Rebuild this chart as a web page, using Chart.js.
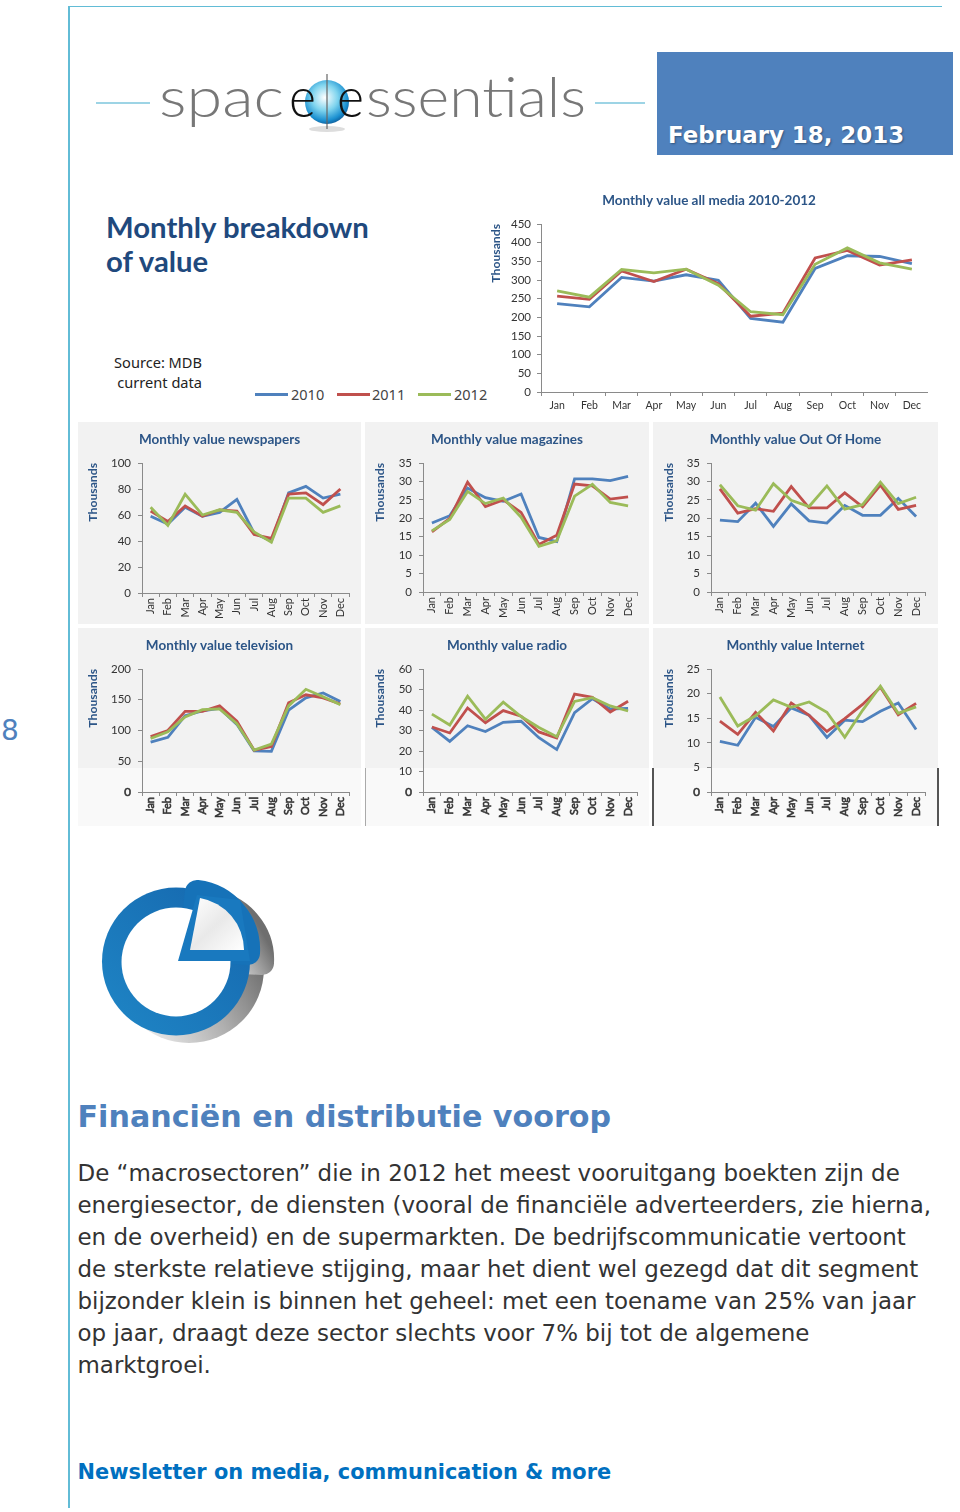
<!DOCTYPE html>
<html>
<head>
<meta charset="utf-8">
<title>Monthly breakdown of value</title>
<script src="https://cdn.jsdelivr.net/npm/chart.js@4"></script>
<style>
    html, body { margin: 0; padding: 0; background: #fff; }
    #page { position: relative; width: 960px; height: 1512px; overflow: hidden; font-family: "DejaVu Sans", sans-serif; }
    #page > * { position: absolute; }
    canvas { position: absolute; }
    .panel { background: #f2f2f2; }
    .fade { background: #f9f9f9; }
    .edge { width: 2px; top: 768px; height: 58px; background: #555; }
    #date { left: 657px; top: 52px; width: 296px; height: 103px; background: #4f81bd; }
    #date span { position: absolute; left: 11px; top: 70px; color: #fff; font-weight: bold; font-size: 22.9px; white-space: nowrap; text-shadow: 1px 1px 2px rgba(0,0,0,.35); }
    #heading { left: 106px; top: 210px; color: #1f497d; font: bold 29.3px/33.5px Lato, sans-serif; white-space: nowrap; }
    #source { left: 100px; top: 353px; width: 102px; text-align: right; color: #222; font: 14.6px/19.5px "Noto Sans", sans-serif; white-space: nowrap; }
    #legend span { position: absolute; top: 385px; color: #444; font: 14.5px/18px "Noto Sans", sans-serif; }
    #legend i { position: absolute; top: 393px; width: 33px; height: 3px; }
    #pagenr { left: 1px; top: 714px; font-size: 28px; color: #4f81bd; }
    #title2 { left: 77.5px; top: 1099px; color: #4f81bd; font-weight: bold; font-size: 30.15px; white-space: nowrap; }
    #body { left: 77.5px; top: 1157px; color: #333; font-size: 22.95px; line-height: 32px; white-space: nowrap; }
    #footer { left: 77.5px; top: 1460px; color: #0070c0; font-weight: bold; font-size: 20.9px; white-space: nowrap; }
</style>
</head>
<body>
<div id="page">
    <div style="left:69px;top:6px;width:873px;height:1px;background:#62bcd6"></div>
    <div style="left:68px;top:6px;width:2px;height:1502px;background:#62bcd6"></div>

    <svg style="left:0;top:0" width="960" height="160">
        <defs>
            <radialGradient id="globe" cx="45%" cy="40%" r="65%">
                <stop offset="0" stop-color="#ffffff"/>
                <stop offset=".45" stop-color="#7fd4ee"/>
                <stop offset=".8" stop-color="#1a8fd0"/>
                <stop offset="1" stop-color="#0b4f8a"/>
            </radialGradient>
        </defs>
        <line x1="96" y1="103" x2="150" y2="103" stroke="#7cc6dc" stroke-width="1.5"/>
        <line x1="595" y1="103" x2="645" y2="103" stroke="#7cc6dc" stroke-width="1.5"/>
        <ellipse cx="327" cy="129" rx="18" ry="3" fill="#ddd"/>
        <circle cx="327" cy="102" r="22" fill="url(#globe)"/>
        <g font-family="Lato, sans-serif" font-weight="300" font-size="56" fill="#777">
            <text x="159" y="117" textLength="125" lengthAdjust="spacingAndGlyphs">spac</text>
            <text x="289" y="117" fill="#111" textLength="27" lengthAdjust="spacingAndGlyphs">e</text>
            <text x="337" y="117" fill="#111" textLength="27" lengthAdjust="spacingAndGlyphs">e</text>
            <text x="366" y="117" textLength="220" lengthAdjust="spacingAndGlyphs">ssentials</text>
        </g>
        <line x1="327" y1="74" x2="327" y2="129" stroke="#666" stroke-width="1.2"/>
    </svg>

    <div id="date"><span>February 18, 2013</span></div>
    <div id="heading">Monthly breakdown<br>of value</div>
    <div id="source">Source: MDB<br>current data</div>
    <div id="legend" style="left:0;top:0"></div>

    <div class="panel" style="left:78px;top:422px;width:283px;height:202px"></div>
    <div class="panel" style="left:365px;top:422px;width:284px;height:202px"></div>
    <div class="panel" style="left:653px;top:422px;width:285px;height:202px"></div>
    <div class="panel" style="left:78px;top:628px;width:283px;height:140px"></div>
    <div class="panel" style="left:365px;top:628px;width:284px;height:140px"></div>
    <div class="panel" style="left:653px;top:628px;width:285px;height:140px"></div>
    <div class="fade" style="left:78px;top:768px;width:283px;height:58px"></div>
    <div class="fade" style="left:365px;top:768px;width:284px;height:58px"></div>
    <div class="fade" style="left:653px;top:768px;width:285px;height:58px"></div>
    <div class="edge" style="left:365px;width:1px;background:#aaa"></div>
    <div class="edge" style="left:652px"></div>
    <div class="edge" style="left:937px"></div>

    <div id="charts" style="left:0;top:0"></div>

    <div id="pagenr">8</div>

    <svg style="left:0;top:860px" width="320" height="200" viewBox="0 860 320 200">
        <defs>
            <linearGradient id="shade" x1="0.1" y1="0.9" x2="0.95" y2="0.4">
                <stop offset="0" stop-color="#f4f4f4"/>
                <stop offset=".55" stop-color="#b0b0b0"/>
                <stop offset="1" stop-color="#6e6e6e"/>
            </linearGradient>
            <linearGradient id="blue" x1="0" y1="1" x2="1" y2="0">
                <stop offset="0" stop-color="#1f86c6"/>
                <stop offset="1" stop-color="#1566ad"/>
            </linearGradient>
            <linearGradient id="paper" x1="0" y1="0" x2="1" y2="1">
                <stop offset="0" stop-color="#fff"/>
                <stop offset=".5" stop-color="#e9e9e9"/>
                <stop offset="1" stop-color="#fff"/>
            </linearGradient>
        </defs>
        <g fill="url(#shade)" stroke="url(#shade)">
            <circle cx="189" cy="968" r="75" stroke="none"/>
            <path d="M204,960 L211,902 A58 58 0 0 1 262,963 Z" stroke-width="24" stroke-linejoin="round"/>
        </g>
        <circle cx="176" cy="961.5" r="74" fill="url(#blue)"/>
        <path d="M190,950 L197,892 A58 58 0 0 1 248,953 Z" fill="#1672b8" stroke="#1672b8" stroke-width="24" stroke-linejoin="round"/>
        <circle cx="176" cy="962" r="54.5" fill="#fff"/>
        <polygon points="178,961 197,895 240,900 250,961" fill="#1979bf"/>
        <path d="M190,950 L200,898 A53 53 0 0 1 244,950 Z" fill="url(#paper)"/>
    </svg>

    <div id="title2">Financiën en distributie voorop</div>
    <div id="body">De “macrosectoren” die in 2012 het meest vooruitgang boekten zijn de<br>energiesector, de diensten (vooral de financiële adverteerders, zie hierna,<br>en de overheid) en de supermarkten. De bedrijfscommunicatie vertoont<br>de sterkste relatieve stijging, maar het dient wel gezegd dat dit segment<br>bijzonder klein is binnen het geheel: met een toename van 25% van jaar<br>op jaar, draagt deze sector slechts voor 7% bij tot de algemene<br>marktgroei.</div>
    <div id="footer">Newsletter on media, communication &amp; more</div>
</div>

<script>
const months = ['Jan', 'Feb', 'Mar', 'Apr', 'May', 'Jun', 'Jul', 'Aug', 'Sep', 'Oct', 'Nov', 'Dec'];
const years = ['2010', '2011', '2012'];
const yearColors = ['#4f81bd', '#c0504d', '#9bbb59'];

const allMedia2010 = [237, 228, 307, 297, 314, 299, 197, 187, 331, 365, 363, 344];
const allMedia2011 = [257, 248, 324, 296, 329, 290, 203, 211, 359, 379, 340, 354];
const allMedia2012 = [271, 254, 328, 319, 329, 286, 215, 207, 342, 386, 346, 329];

const newspapers2010 = [59, 53, 66, 59, 62, 72, 46, 40, 77, 82, 73, 76];
const newspapers2011 = [63, 55, 67, 59, 64, 63, 45, 42, 76, 77, 68, 80];
const newspapers2012 = [66, 52, 76, 60, 64, 62, 47, 39, 73, 73, 62, 67];

const magazines2010 = [18.7, 20.7, 28.2, 25.6, 24.6, 26.6, 14.8, 13.7, 30.7, 30.7, 30.2, 31.4];
const magazines2011 = [16.3, 20, 29.8, 23.2, 25, 21.6, 12.9, 15.4, 29.3, 28.8, 25.2, 25.8];
const magazines2012 = [16.6, 19.7, 27.3, 24, 25.5, 20.3, 12.4, 13.9, 26, 29.2, 24.3, 23.4];

const outOfHome2010 = [19.5, 19.1, 24.1, 17.8, 23.9, 19.3, 18.7, 23.5, 20.8, 20.8, 25.4, 20.5];
const outOfHome2011 = [28, 21.4, 22.6, 21.9, 28.6, 22.8, 22.8, 26.9, 23.1, 29, 22.4, 23.5];
const outOfHome2012 = [29.1, 23.4, 22.2, 29.4, 24.9, 23.2, 28.8, 22.5, 23.7, 29.8, 24, 25.7];

const television2010 = [81, 89, 124, 132, 136, 110, 67, 66, 133, 153, 161, 147];
const television2011 = [90, 100, 131, 131, 140, 115, 68, 74, 145, 158, 153, 143];
const television2012 = [87, 98, 122, 134, 135, 111, 68, 78, 140, 167, 155, 142];

const radio2010 = [31.5, 24.7, 32.3, 29.5, 34, 34.5, 26.5, 20.7, 38.7, 45.5, 40.5, 40.8];
const radio2011 = [31.7, 28.8, 41, 33.8, 39.7, 37, 29.3, 26.3, 47.8, 46.2, 39, 44.3];
const radio2012 = [38, 32.7, 46.7, 35.5, 43.8, 36.8, 31.5, 27, 44.2, 46, 42, 39.5];

const internet2010 = [10.3, 9.5, 15.2, 13.3, 17.1, 15.6, 11.1, 14.6, 14.3, 16.4, 18.1, 12.7];
const internet2011 = [14.4, 11.7, 16.2, 12.4, 18.1, 15.6, 12.3, 14.9, 17.8, 21.3, 15.7, 18];
const internet2012 = [19.3, 13.4, 15.5, 18.7, 17.2, 18.3, 16.2, 11.1, 16.6, 21.5, 16, 17.3];

function buildLegend() {
    let legend = document.getElementById('legend');
    let lineLeft = [255, 337, 418];
    let textLeft = [291, 372, 454];

    years.forEach(function (year, i) {
        let line = document.createElement('i');
        line.style.left = lineLeft[i] + 'px';
        line.style.background = yearColors[i];
        legend.appendChild(line);

        let label = document.createElement('span');
        label.style.left = textLeft[i] + 'px';
        label.textContent = year;
        legend.appendChild(label);
    });
}

// box = the canvas on the page, plot = where the axes have to end up
function drawChart(title, series, max, step, box, plot, small) {
    let canvas = document.createElement('canvas');
    canvas.width = box.right - box.left;
    canvas.height = box.bottom - box.top;
    canvas.style.left = box.left + 'px';
    canvas.style.top = box.top + 'px';
    document.getElementById('charts').appendChild(canvas);

    let titleHeight = plot.top - box.top;
    let titleFont = 13.5;
    // same margin on both sides keeps the chart title in the middle of the panel
    let side = box.right - plot.right;

    new Chart(canvas.getContext('2d'), {
        type: 'line',
        data: {
            labels: months,
            datasets: series.map(function (values, i) {
                return {
                    label: years[i],
                    data: values,
                    borderColor: yearColors[i],
                    borderWidth: 2.8,
                    tension: 0,
                    pointRadius: 0,
                    order: series.length - i
                };
            })
        },
        options: {
            responsive: false,
            animation: false,
            layout: { padding: { left: side, right: side } },
            plugins: {
                legend: { display: false },
                tooltip: { enabled: false },
                title: {
                    display: true,
                    text: title,
                    color: '#2c5587',
                    font: { family: 'Lato, sans-serif', size: titleFont, weight: 'bold', lineHeight: 1 },
                    padding: { top: box.titleTop, bottom: titleHeight - box.titleTop - titleFont }
                }
            },
            scales: {
                x: {
                    offset: true,
                    grid: { offset: true, drawOnChartArea: false, color: '#8a8a8a', tickLength: 4 },
                    border: { color: '#8a8a8a' },
                    ticks: {
                        color: '#333',
                        autoSkip: false,
                        padding: small ? 1 : 3,
                        minRotation: small ? 90 : 0,
                        maxRotation: small ? 90 : 0,
                        // the lower row is smeared in the scan
                        textStrokeColor: '#555',
                        textStrokeWidth: box.smeared ? 0.7 : 0,
                        font: { family: 'Lato, sans-serif', size: small ? 11 : 10.5 }
                    },
                    afterFit: function (scale) {
                        scale.height = box.bottom - plot.bottom;
                    }
                },
                y: {
                    min: 0,
                    max: max,
                    grid: { drawOnChartArea: false, color: '#8a8a8a', tickLength: 4 },
                    border: { color: '#8a8a8a' },
                    ticks: {
                        stepSize: step,
                        color: '#333',
                        padding: small ? 7 : 6,
                        textStrokeColor: '#555',
                        textStrokeWidth: function (context) {
                            return box.smeared && context.tick.value === 0 ? 0.7 : 0;
                        },
                        font: { family: 'Lato, sans-serif', size: 11.5 }
                    },
                    title: {
                        display: true,
                        text: 'Thousands',
                        align: 'end',
                        color: '#2c5587',
                        padding: { top: small ? 0 : 3, bottom: 0 },
                        font: { family: 'Lato, sans-serif', size: 12.2, weight: 'bold', lineHeight: 0.5 }
                    },
                    afterFit: function (scale) {
                        scale.width = plot.left - box.left - side;
                    }
                }
            }
        }
    });
}

buildLegend();

drawChart('Monthly value all media 2010-2012', [allMedia2010, allMedia2011, allMedia2012], 450, 50,
    { left: 490, top: 185, right: 928, bottom: 416, titleTop: 9 },
    { left: 541, top: 224, right: 928, bottom: 392 }, false);

drawChart('Monthly value newspapers', [newspapers2010, newspapers2011, newspapers2012], 100, 20,
    { left: 78, top: 422, right: 361, bottom: 624, titleTop: 11 },
    { left: 142, top: 463, right: 349, bottom: 593 }, true);

drawChart('Monthly value magazines', [magazines2010, magazines2011, magazines2012], 35, 5,
    { left: 365, top: 422, right: 649, bottom: 624, titleTop: 11 },
    { left: 423, top: 463, right: 637, bottom: 592 }, true);

drawChart('Monthly value Out Of Home', [outOfHome2010, outOfHome2011, outOfHome2012], 35, 5,
    { left: 653, top: 422, right: 938, bottom: 624, titleTop: 11 },
    { left: 711, top: 463, right: 925, bottom: 592 }, true);

drawChart('Monthly value television', [television2010, television2011, television2012], 200, 50,
    { left: 78, top: 628, right: 361, bottom: 826, titleTop: 11, smeared: true },
    { left: 142, top: 669, right: 349, bottom: 792 }, true);

drawChart('Monthly value radio', [radio2010, radio2011, radio2012], 60, 10,
    { left: 365, top: 628, right: 649, bottom: 826, titleTop: 11, smeared: true },
    { left: 423, top: 669, right: 637, bottom: 792 }, true);

drawChart('Monthly value Internet', [internet2010, internet2011, internet2012], 25, 5,
    { left: 653, top: 628, right: 938, bottom: 826, titleTop: 11, smeared: true },
    { left: 711, top: 669, right: 925, bottom: 792 }, true);
</script>
</body>
</html>
